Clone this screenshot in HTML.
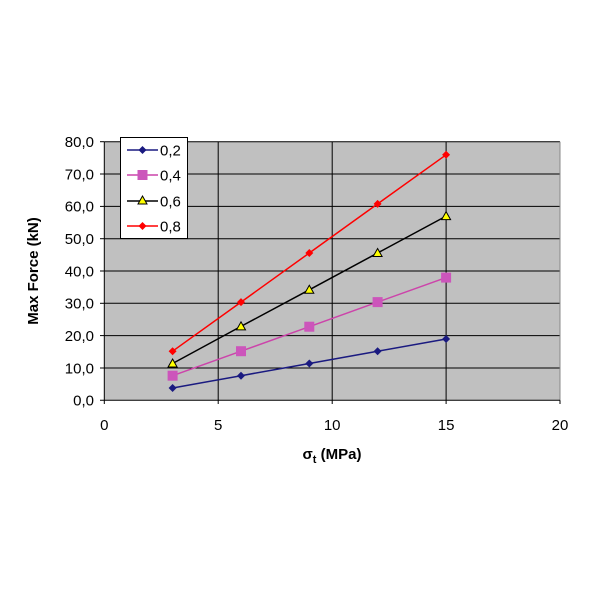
<!DOCTYPE html>
<html><head><style>body{margin:0;background:#fff}svg{display:block}</style></head><body>
<svg width="600" height="600" xmlns="http://www.w3.org/2000/svg" font-family="Liberation Sans, Arial, sans-serif">
<rect x="104.3" y="141.7" width="455.7" height="258.6" fill="#c0c0c0"/>
<g stroke="#000" stroke-width="1">
<line x1="104.3" y1="141.7" x2="560" y2="141.7"/>
<line x1="104.3" y1="174" x2="560" y2="174"/>
<line x1="104.3" y1="206.4" x2="560" y2="206.4"/>
<line x1="104.3" y1="238.7" x2="560" y2="238.7"/>
<line x1="104.3" y1="271" x2="560" y2="271"/>
<line x1="104.3" y1="303.3" x2="560" y2="303.3"/>
<line x1="104.3" y1="335.6" x2="560" y2="335.6"/>
<line x1="104.3" y1="368" x2="560" y2="368"/>
<line x1="218.2" y1="141.7" x2="218.2" y2="400.3"/>
<line x1="332.2" y1="141.7" x2="332.2" y2="400.3"/>
<line x1="446.1" y1="141.7" x2="446.1" y2="400.3"/>
<line x1="560" y1="141.7" x2="560" y2="400.3" stroke="#888"/>
</g>
<g stroke="#000">
<line x1="104.3" y1="141.7" x2="104.3" y2="404"/>
<line x1="100" y1="400.3" x2="560" y2="400.3"/>
<line x1="100" y1="141.7" x2="104.3" y2="141.7"/><line x1="100" y1="174" x2="104.3" y2="174"/>
<line x1="100" y1="206.4" x2="104.3" y2="206.4"/><line x1="100" y1="238.7" x2="104.3" y2="238.7"/>
<line x1="100" y1="271" x2="104.3" y2="271"/><line x1="100" y1="303.3" x2="104.3" y2="303.3"/>
<line x1="100" y1="335.6" x2="104.3" y2="335.6"/><line x1="100" y1="368" x2="104.3" y2="368"/>
<line x1="218.2" y1="400.3" x2="218.2" y2="404"/><line x1="332.2" y1="400.3" x2="332.2" y2="404"/>
<line x1="446.1" y1="400.3" x2="446.1" y2="404"/><line x1="560" y1="400.3" x2="560" y2="404"/>
</g>
<g font-size="15" text-anchor="end" fill="#000">
<text x="94" y="147">80,0</text><text x="94" y="179.5">70,0</text><text x="94" y="211.5">60,0</text>
<text x="94" y="244">50,0</text><text x="94" y="276.5">40,0</text><text x="94" y="308.5">30,0</text>
<text x="94" y="341">20,0</text><text x="94" y="373.5">10,0</text><text x="94" y="405.5">0,0</text>
</g>
<g font-size="15" text-anchor="middle">
<text x="104.3" y="430">0</text><text x="218.2" y="430">5</text><text x="332.2" y="430">10</text>
<text x="446.1" y="430">15</text><text x="560" y="430">20</text>
<text x="332" y="459" font-weight="bold" font-size="15">σ<tspan font-size="11" dy="4">t</tspan><tspan dy="-4"> (MPa)</tspan></text>
</g>
<text transform="translate(38,271) rotate(-90)" text-anchor="middle" font-size="15" font-weight="bold">Max Force (kN)</text>
<polyline fill="none" stroke="#ff0000" stroke-width="1.5" points="172.6,351.2 241,302.1 309.3,253 377.6,203.9 446.1,154.8"/>
<polyline fill="none" stroke="#000" stroke-width="1.5" points="172.6,363.5 241,326.4 309.3,289.8 377.6,253 446.1,216.1"/>
<polyline fill="none" stroke="#cc44aa" stroke-width="1.5" points="172.6,375.7 241,351.2 309.3,326.7 377.6,302.1 446.1,277.6"/>
<polyline fill="none" stroke="#1a1a80" stroke-width="1.5" points="172.6,388 241,375.7 309.3,363.5 377.6,351.2 446.1,339"/>
<g fill="#1a1a80">
<path d="M172.6,384 l4,4 -4,4 -4,-4z"/><path d="M241,371.7 l4,4 -4,4 -4,-4z"/><path d="M309.3,359.5 l4,4 -4,4 -4,-4z"/><path d="M377.6,347.2 l4,4 -4,4 -4,-4z"/><path d="M446.1,335 l4,4 -4,4 -4,-4z"/>
</g>
<g fill="#cc55bb">
<rect x="167.6" y="370.7" width="10" height="10"/><rect x="236" y="346.2" width="10" height="10"/><rect x="304.3" y="321.7" width="10" height="10"/><rect x="372.6" y="297.1" width="10" height="10"/><rect x="441.1" y="272.6" width="10" height="10"/>
</g>
<g fill="#ffff00" stroke="#000">
<path d="M172.6,359 l4.5,8 h-9z"/><path d="M241,321.9 l4.5,8 h-9z"/><path d="M309.3,285.3 l4.5,8 h-9z"/><path d="M377.6,248.5 l4.5,8 h-9z"/><path d="M446.1,211.6 l4.5,8 h-9z"/>
</g>
<g fill="#ff0000">
<path d="M172.6,347.2 l4,4 -4,4 -4,-4z"/><path d="M241,298.1 l4,4 -4,4 -4,-4z"/><path d="M309.3,249 l4,4 -4,4 -4,-4z"/><path d="M377.6,199.9 l4,4 -4,4 -4,-4z"/><path d="M446.1,150.8 l4,4 -4,4 -4,-4z"/>
</g>
<rect x="120.5" y="137.5" width="67" height="101" fill="#fff" stroke="#000"/>
<g font-size="15">
<line x1="127" y1="150" x2="158" y2="150" stroke="#1a1a80" stroke-width="1.5"/><path d="M142.5,146 l4,4 -4,4 -4,-4z" fill="#1a1a80"/><text x="160" y="155.5">0,2</text>
<line x1="127" y1="175" x2="158" y2="175" stroke="#cc44aa" stroke-width="1.5"/><rect x="137.5" y="170" width="10" height="10" fill="#cc55bb"/><text x="160" y="180.5">0,4</text>
<line x1="127" y1="201" x2="158" y2="201" stroke="#000" stroke-width="1.5"/><path d="M142.5,196 l4.5,8 h-9z" fill="#ffff00" stroke="#000"/><text x="160" y="206.5">0,6</text>
<line x1="127" y1="226" x2="158" y2="226" stroke="#ff0000" stroke-width="1.5"/><path d="M142.5,222 l4,4 -4,4 -4,-4z" fill="#ff0000"/><text x="160" y="231.5">0,8</text>
</g>
</svg>
</body></html>
